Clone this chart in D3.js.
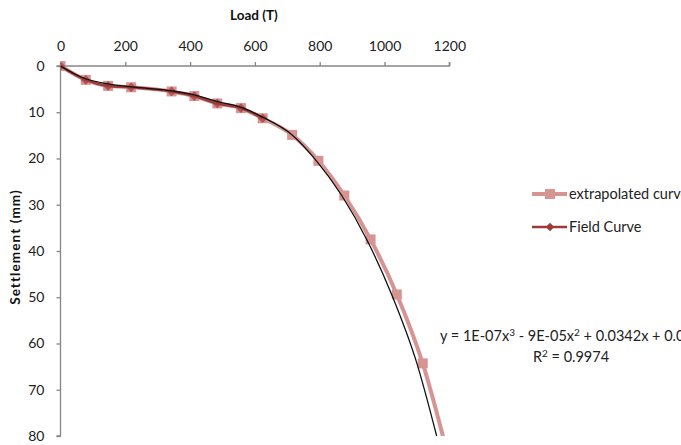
<!DOCTYPE html>
<html><head><meta charset="utf-8">
<script src="https://cdn.jsdelivr.net/npm/d3@7/dist/d3.min.js"></script>
<style>body{margin:0;background:#fff;} svg{display:block;font-family:Lato, "Open Sans", sans-serif;}</style>
</head><body>
<svg id="c" width="681" height="445"></svg>
<script>
const xTicks = [0, 200, 400, 600, 800, 1000, 1200];
const yTicks = [0, 10, 20, 30, 40, 50, 60, 70, 80];
const extrapLoad = [0, 78, 147, 218, 343, 413, 484, 557, 624, 715, 796, 876, 957, 1038, 1118, 1195];
const extrapSettle = [0, 3.0, 4.3, 4.6, 5.5, 6.5, 8.1, 9.1, 11.3, 14.9, 20.5, 28.0, 37.5, 49.4, 64.3, 84.0];
const fieldLoad = [0, 78, 147, 218, 343, 413, 484, 557, 624];
const fieldSettle = [0, 3.0, 4.3, 4.6, 5.5, 6.5, 8.1, 9.1, 11.3];
const trendLoad = [0, 75, 150, 220, 345, 410, 485, 560, 625, 715, 790, 868, 945, 1022, 1100, 1161];
const trendSettle = [0, 2.7, 3.9, 4.5, 5.4, 6.2, 7.7, 9.0, 11.1, 14.9, 20.5, 28.0, 37.5, 49.4, 64.3, 80.0];
const seriesNames = ["extrapolated curve", "Field Curve"];
const equationParts = [["y = 1E-07x", false], ["3", true], [" - 9E-05x", false], ["2", true], [" + 0.0342x + 0.0", false]];
const r2Parts = [["R", false], ["2", true], [" = 0.9974", false]];

const svg = d3.select("#c");
const pL = 60.5, pR = 449.3, pT = 66, pB = 436;
const x = d3.scaleLinear().domain([0, 1200]).range([pL, pR]);
const y = d3.scaleLinear().domain([0, 80]).range([pT, pB]);
const axisColor = "#868686";
const pink = "#d69593", dark = "#9c3b39";
const txt = "#222";

svg.append("defs").append("clipPath").attr("id", "pc")
  .append("rect").attr("x", pL).attr("y", pT - 8).attr("width", 240 + pR).attr("height", pB - pT + 8);

// axes
const gx = svg.append("g").attr("transform", `translate(0,${pT})`)
  .call(d3.axisTop(x).tickValues(xTicks).tickSize(4).tickPadding(11).tickFormat(d3.format("d")));
const gy = svg.append("g").attr("transform", `translate(${pL},0)`)
  .call(d3.axisLeft(y).tickValues(yTicks).tickSize(4).tickPadding(12).tickFormat(d3.format("d")));
[gx, gy].forEach(g => {
  g.select(".domain").attr("stroke", axisColor).attr("stroke-width", 1.3);
  g.selectAll(".tick line").attr("stroke", axisColor).attr("stroke-width", 1.3);
  g.selectAll(".tick text").attr("fill", txt).style("font-size", "14px").style("font-family", "Lato, sans-serif");
});
gx.select(".domain").attr("d", `M${pL},-4V0H${pR}V-4`);
gy.select(".domain").attr("d", `M-4,${pT}H0V${pB}H-4`);

svg.append("text").attr("x", (pL + pR) / 2 - 1).attr("y", 20).attr("text-anchor", "middle")
  .style("font-size", "13.5px").style("font-weight", "bold").attr("fill", "#111").text("Load (T)");
svg.append("text").attr("transform", `translate(20,${247}) rotate(-90)`).attr("text-anchor", "middle")
  .style("font-size", "13.5px").style("font-weight", "bold").style("letter-spacing", "1.1px").attr("fill", "#111").text("Settlement (mm)");

const plot = svg.append("g").attr("clip-path", "url(#pc)");
const ext = extrapLoad.map((d, i) => [d, extrapSettle[i]]);
const fld = fieldLoad.map((d, i) => [d, fieldSettle[i]]);
const trd = trendLoad.map((d, i) => [d, trendSettle[i]]);
const line = d3.line().x(d => x(d[0])).y(d => y(d[1])).curve(d3.curveMonotoneX);

plot.append("path").attr("d", line(ext)).attr("fill", "none").attr("stroke", pink).attr("stroke-width", 4);
const sq = 10;
plot.selectAll(".sq").data(ext).join("rect")
  .attr("x", d => x(d[0]) - sq / 2).attr("y", d => y(d[1]) - sq / 2)
  .attr("width", sq).attr("height", sq).attr("fill", pink);
plot.append("path").attr("d", line(fld)).attr("fill", "none").attr("stroke", dark).attr("stroke-width", 2.5);
const diamond = d3.symbol().type(d3.symbolDiamond2).size(60);
plot.selectAll(".dm").data(fld).join("path")
  .attr("transform", d => `translate(${x(d[0])},${y(d[1])})`).attr("d", diamond).attr("fill", dark).attr("opacity", 0.7);
plot.append("path").attr("d", line(trd)).attr("fill", "none").attr("stroke", "#111").attr("stroke-width", 1.3);

// legend
const lg = svg.append("g");
const lx1 = 532, lx2 = 567;
[[194, pink, 4, "sq"], [227, dark, 2.5, "dm"]].forEach((r, i) => {
  lg.append("line").attr("x1", lx1).attr("x2", lx2).attr("y1", r[0]).attr("y2", r[0]).attr("stroke", r[1]).attr("stroke-width", r[2]);
  if (r[3] === "sq") lg.append("rect").attr("x", 550 - 5).attr("y", r[0] - 5).attr("width", 10).attr("height", 10).attr("fill", r[1]);
  else lg.append("path").attr("transform", `translate(550,${r[0]})`).attr("d", d3.symbol().type(d3.symbolDiamond2).size(45)).attr("fill", r[1]);
  lg.append("text").attr("x", 569).attr("y", r[0] + 5).style("font-size", "14.5px").attr("fill", txt).text(seriesNames[i]);
});

function richText(parts, xx, yy, anchor) {
  const t = svg.append("text").attr("x", xx).attr("y", yy).attr("text-anchor", anchor)
    .style("font-size", "14.5px").attr("fill", txt);
  parts.forEach(p => {
    const s = t.append("tspan").text(p[0]);
    if (p[1]) s.attr("dy", -5).style("font-size", "10px");
    else if (t.node().childNodes.length > 1) s.attr("dy", 0);
  });
  // reset baseline after superscripts
  let prevSup = false;
  t.selectAll("tspan").each(function (d, i) {
    const sup = parts[i][1];
    d3.select(this).attr("dy", sup ? -5 : (prevSup ? 5 : 0));
    prevSup = sup;
  });
  return t;
}
richText(equationParts, 440, 341, "start");
richText(r2Parts, 571, 362, "middle");
</script>
</body></html>
